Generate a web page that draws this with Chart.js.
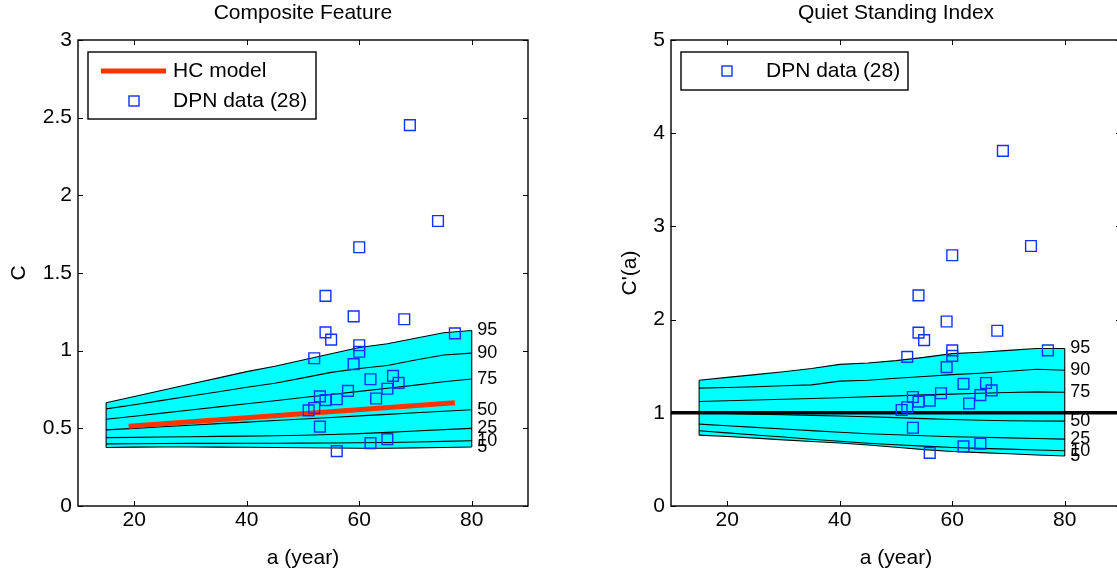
<!DOCTYPE html>
<html><head><meta charset="utf-8">
<script src="https://cdn.jsdelivr.net/npm/chart.js@4.4.1/dist/chart.umd.min.js"></script>
<style>
html,body{margin:0;padding:0;background:#fff;overflow:hidden;width:1117px;height:576px;}
#wrap{position:relative;width:1117px;height:576px;overflow:hidden;}
.pane{position:absolute;top:0;width:560px;height:576px;}
</style></head><body>
<div id="wrap">
<div class="pane" style="left:0"><canvas id="c1" width="560" height="576"></canvas></div>
<div class="pane" style="left:593px"><canvas id="c2" width="560" height="576"></canvas></div>
</div>
<script>
const FONT = "'Liberation Sans', Arial, Helvetica, sans-serif";

// ---- shared ----
const X_TICKS = [20, 40, 60, 80];
const X_RANGE = [10, 90];
const PCT_AGES = [15, 20, 25, 30, 35, 40, 45, 50, 55, 60, 65, 70, 75, 80];
const PCT_NAMES = ['5', '10', '25', '50', '75', '90', '95'];
const DPN_AGES = [69, 74, 60, 54, 59, 68, 54, 55, 77, 60, 60, 52, 59, 62, 66, 67, 65, 58, 53, 54, 56, 63, 51, 52, 53, 62, 65, 56];

// ---- left panel: Composite Feature ----
const Y_TICKS_L = [0, 0.5, 1, 1.5, 2, 2.5, 3];
const Y_TICK_LABELS_L = ['0', '0.5', '1', '1.5', '2', '2.5', '3'];
const P5_L  = [0.377, 0.379, 0.380, 0.380, 0.379, 0.378, 0.377, 0.375, 0.373, 0.372, 0.372, 0.374, 0.377, 0.380];
const P10_L = [0.400, 0.401, 0.402, 0.403, 0.403, 0.404, 0.404, 0.405, 0.406, 0.407, 0.409, 0.412, 0.416, 0.420];
const P25_L = [0.440, 0.442, 0.444, 0.446, 0.448, 0.450, 0.452, 0.455, 0.460, 0.466, 0.474, 0.483, 0.492, 0.500];
const P50_L = [0.490, 0.500, 0.510, 0.520, 0.530, 0.540, 0.550, 0.560, 0.570, 0.580, 0.590, 0.600, 0.610, 0.620];
const P75_L = [0.558, 0.578, 0.598, 0.618, 0.638, 0.658, 0.678, 0.698, 0.718, 0.738, 0.758, 0.778, 0.800, 0.818];
const P90_L = [0.625, 0.652, 0.680, 0.708, 0.736, 0.765, 0.790, 0.825, 0.860, 0.885, 0.905, 0.940, 0.972, 0.984];
const P95_L = [0.665, 0.705, 0.745, 0.785, 0.825, 0.865, 0.900, 0.940, 0.980, 1.020, 1.045, 1.080, 1.115, 1.130];
const HC_AGES = [19, 77];
const HC_VALUES = [0.513, 0.665];
const DPN_L = [2.452, 1.835, 1.666, 1.353, 1.221, 1.202, 1.118, 1.071, 1.111, 1.035, 0.993, 0.951, 0.913, 0.816, 0.838, 0.793, 0.755, 0.741, 0.706, 0.682, 0.687, 0.692, 0.616, 0.631, 0.511, 0.405, 0.431, 0.353];

// ---- right panel: Quiet Standing Index ----
const Y_TICKS_R = [0, 1, 2, 3, 4, 5];
const Y_TICK_LABELS_R = ['0', '1', '2', '3', '4', '5'];
const P5_R  = [0.760, 0.745, 0.728, 0.710, 0.692, 0.676, 0.655, 0.630, 0.605, 0.585, 0.573, 0.561, 0.548, 0.536];
const P10_R = [0.807, 0.785, 0.762, 0.740, 0.717, 0.695, 0.673, 0.657, 0.642, 0.627, 0.618, 0.610, 0.601, 0.593];
const P25_R = [0.878, 0.861, 0.844, 0.826, 0.809, 0.792, 0.776, 0.765, 0.754, 0.743, 0.737, 0.731, 0.725, 0.718];
const P50_R = [1.000, 0.993, 0.986, 0.979, 0.972, 0.965, 0.958, 0.948, 0.937, 0.928, 0.920, 0.915, 0.912, 0.911];
const P75_R = [1.122, 1.130, 1.138, 1.146, 1.154, 1.162, 1.172, 1.182, 1.192, 1.200, 1.210, 1.218, 1.225, 1.220];
const P90_R = [1.265, 1.272, 1.280, 1.290, 1.300, 1.340, 1.350, 1.370, 1.390, 1.410, 1.425, 1.445, 1.468, 1.457];
const P95_R = [1.350, 1.380, 1.410, 1.440, 1.475, 1.520, 1.535, 1.560, 1.595, 1.635, 1.650, 1.670, 1.690, 1.690];
const REF_X = [10, 90];
const REF_Y = 1;
const DPN_R = [3.81, 2.79, 2.69, 2.26, 1.98, 1.88, 1.86, 1.78, 1.67, 1.67, 1.61, 1.60, 1.49, 1.31, 1.32, 1.24, 1.19, 1.21, 1.17, 1.12, 1.13, 1.10, 1.03, 1.06, 0.84, 0.64, 0.67, 0.57];

const DPN_LABEL = 'DPN data (28)';
const HC_LABEL = 'HC model';

// ---- helpers ----
const pts = (xs, ys) => xs.map((x, i) => ({x, y: Array.isArray(ys) ? ys[i] : ys}));

function bandDatasets(bands) {
  const out = bands.map((vals, i) => ({
    label: 'p' + PCT_NAMES[i],
    pctLabel: PCT_NAMES[i],
    data: pts(PCT_AGES, vals),
    showLine: true, borderColor: '#000', borderWidth: 1.1,
    pointRadius: 0, tension: 0,
    fill: false, order: 3
  }));
  const top = out[out.length - 1];
  top.fill = 0;
  top.backgroundColor = '#00ffff';
  const lo = bands[0], hi = bands[bands.length - 1], n = PCT_AGES.length - 1;
  out.push({label: 'edgeL', data: [{x: PCT_AGES[0], y: lo[0]}, {x: PCT_AGES[0], y: hi[0]}],
    showLine: true, borderColor: '#000', borderWidth: 1.1, pointRadius: 0, fill: false, order: 3});
  out.push({label: 'edgeR', data: [{x: PCT_AGES[n], y: lo[n]}, {x: PCT_AGES[n], y: hi[n]}],
    showLine: true, borderColor: '#000', borderWidth: 1.1, pointRadius: 0, fill: false, order: 3});
  return out;
}

function dpnDataset(vals) {
  return {
    label: DPN_LABEL, data: pts(DPN_AGES, vals), showLine: false,
    pointStyle: 'rect', pointRadius: 7.6, pointBorderWidth: 1.4,
    pointBorderColor: '#1030ff', pointBackgroundColor: 'rgba(0,0,0,0)',
    borderColor: '#1030ff', order: 0
  };
}

const framePlugin = {
  id: 'frame',
  afterDatasetsDraw(chart, args, opts) {
    const {ctx, chartArea: a, scales: {x, y}} = chart;
    ctx.save();
    ctx.strokeStyle = '#000';
    ctx.lineWidth = 1.4;
    ctx.strokeRect(a.left, a.top, a.right - a.left, a.bottom - a.top);
    const tl = 5;
    ctx.lineWidth = 1;
    ctx.beginPath();
    opts.xTicks.forEach(v => {
      const px = Math.round(x.getPixelForValue(v)) + 0.5;
      ctx.moveTo(px, a.bottom); ctx.lineTo(px, a.bottom - tl);
      ctx.moveTo(px, a.top); ctx.lineTo(px, a.top + tl);
    });
    opts.yTicks.forEach(v => {
      const py = Math.round(y.getPixelForValue(v)) + 0.5;
      ctx.moveTo(a.left, py); ctx.lineTo(a.left + tl, py);
      ctx.moveTo(a.right, py); ctx.lineTo(a.right - tl, py);
    });
    ctx.stroke();
    ctx.restore();
  }
};

const pctLabelPlugin = {
  id: 'pctLabels',
  afterDatasetsDraw(chart, args, opts) {
    const ctx = chart.ctx;
    ctx.save();
    ctx.font = opts.size + 'px ' + FONT;
    ctx.fillStyle = '#000';
    ctx.textAlign = 'left';
    ctx.textBaseline = 'middle';
    chart.data.datasets.forEach((ds, i) => {
      if (!ds.pctLabel) return;
      const meta = chart.getDatasetMeta(i);
      const p = meta.data[meta.data.length - 1];
      ctx.fillText(ds.pctLabel, p.x + opts.dx, p.y);
    });
    ctx.restore();
  }
};

const boxLegendPlugin = {
  id: 'boxLegend',
  afterDraw(chart, args, opts) {
    const {ctx, chartArea: a} = chart;
    const x0 = a.left + opts.offsetX, y0 = a.top + opts.offsetY;
    ctx.save();
    ctx.fillStyle = '#fff';
    ctx.fillRect(x0, y0, opts.width, opts.height);
    ctx.strokeStyle = '#000';
    ctx.lineWidth = 1.4;
    ctx.strokeRect(x0, y0, opts.width, opts.height);
    ctx.font = opts.size + 'px ' + FONT;
    ctx.textAlign = 'left';
    ctx.textBaseline = 'middle';
    opts.items.forEach((idx, r) => {
      const ds = chart.data.datasets[idx];
      const cy = y0 + opts.firstRow + r * opts.rowGap;
      if (ds.showLine) {
        ctx.strokeStyle = ds.borderColor;
        ctx.lineWidth = ds.borderWidth;
        ctx.beginPath();
        ctx.moveTo(x0 + 13, cy); ctx.lineTo(x0 + 78, cy);
        ctx.stroke();
      } else {
        ctx.strokeStyle = ds.pointBorderColor;
        ctx.lineWidth = ds.pointBorderWidth;
        ctx.strokeRect(x0 + 46 - 5, cy - 5, 10, 10);
      }
      ctx.fillStyle = '#000';
      ctx.fillText(ds.label, x0 + 85, cy);
    });
    ctx.restore();
  }
};

function makeOptions(title, yTitle, yMax, yTicks, yLabels, yTitlePad, legend) {
  return {
    responsive: false, animation: false, events: [],
    devicePixelRatio: 1,
    layout: {padding: {left: 0, right: 32, top: 0, bottom: 0}},
    plugins: {
      legend: {display: false},
      tooltip: {enabled: false},
      filler: {drawTime: 'beforeDatasetsDraw'},
      title: {display: true, text: title, fullSize: false, color: '#000',
        font: {family: FONT, size: 21, weight: 'normal', lineHeight: 1.2},
        padding: {top: 1, bottom: 13.8}},
      frame: {xTicks: X_TICKS, yTicks: yTicks},
      pctLabels: {size: 18, dx: 5.5},
      boxLegend: legend
    },
    scales: {
      x: {
        type: 'linear', position: 'bottom', min: X_RANGE[0], max: X_RANGE[1],
        afterBuildTicks: s => { s.ticks = X_TICKS.map(v => ({value: v})); },
        afterFit: s => { s.height = 70; },
        grid: {display: false, drawTicks: false},
        border: {display: false},
        ticks: {color: '#000', padding: 1.5, maxRotation: 0, font: {family: FONT, size: 21},
          callback: (v, i) => String(X_TICKS[i])},
        title: {display: true, text: 'a (year)', color: '#000', font: {family: FONT, size: 21},
          padding: {top: 0, bottom: 5.4}}
      },
      y: {
        type: 'linear', position: 'left', min: 0, max: yMax,
        afterBuildTicks: s => { s.ticks = yTicks.map(v => ({value: v})); },
        afterFit: s => { s.width = 78; },
        grid: {display: false, drawTicks: false},
        border: {display: false},
        ticks: {color: '#000', padding: 6, font: {family: FONT, size: 21},
          callback: (v, i) => yLabels[i]},
        title: {display: true, text: yTitle, color: '#000', font: {family: FONT, size: 21},
          padding: {top: yTitlePad, bottom: 0}}
      }
    }
  };
}

// ---- left chart ----
const leftBands = bandDatasets([P5_L, P10_L, P25_L, P50_L, P75_L, P90_L, P95_L]);
const hcDs = {label: HC_LABEL, data: pts(HC_AGES, HC_VALUES), showLine: true,
  borderColor: '#ff3300', borderWidth: 5, borderCapStyle: 'butt', pointRadius: 0, fill: false, order: 1};
const leftData = leftBands.concat([hcDs, dpnDataset(DPN_L)]);
new Chart(document.getElementById('c1'), {
  type: 'scatter',
  data: {datasets: leftData},
  options: makeOptions('Composite Feature', 'C', 3, Y_TICKS_L, Y_TICK_LABELS_L, 6.4,
    {offsetX: 10, offsetY: 12, width: 228, height: 67, firstRow: 19, rowGap: 30, size: 21,
     items: [leftData.length - 2, leftData.length - 1]}),
  plugins: [framePlugin, pctLabelPlugin, boxLegendPlugin]
});

// ---- right chart ----
const rightBands = bandDatasets([P5_R, P10_R, P25_R, P50_R, P75_R, P90_R, P95_R]);
const refDs = {label: 'ref', data: pts(REF_X, REF_Y), showLine: true, borderColor: '#000',
  borderWidth: 3.5, pointRadius: 0, fill: false, order: 1};
const rightData = rightBands.concat([refDs, dpnDataset(DPN_R)]);
new Chart(document.getElementById('c2'), {
  type: 'scatter',
  data: {datasets: rightData},
  options: makeOptions('Quiet Standing Index', "C'(a)", 5, Y_TICKS_R, Y_TICK_LABELS_R, 24.4,
    {offsetX: 10, offsetY: 12, width: 227, height: 38, firstRow: 19, rowGap: 30, size: 21,
     items: [rightData.length - 1]}),
  plugins: [framePlugin, pctLabelPlugin, boxLegendPlugin]
});
</script>
</body></html>
